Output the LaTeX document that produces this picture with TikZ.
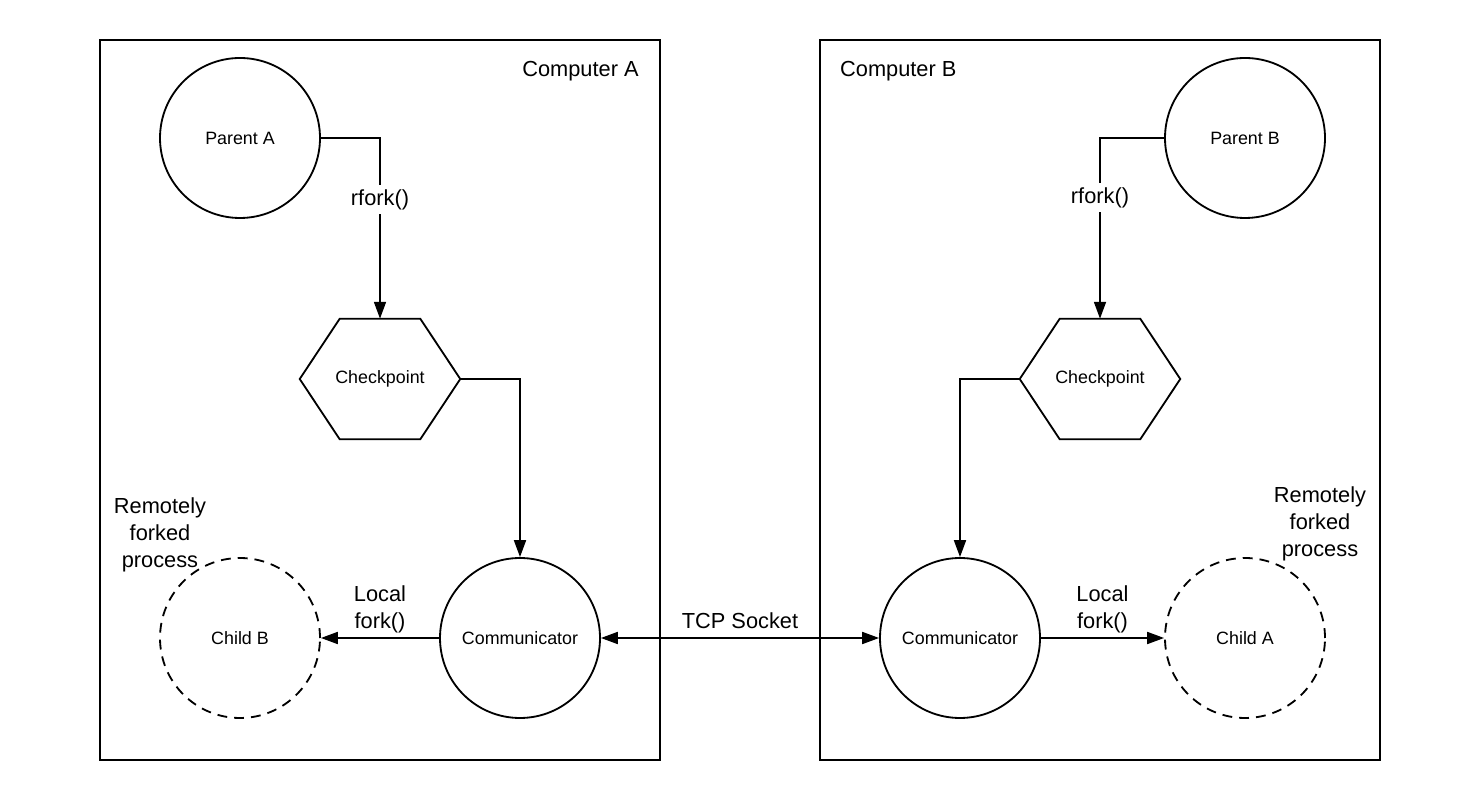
\documentclass[tikz,border=0pt]{standalone}
\usepackage{fontspec}
\setmainfont{Liberation Sans}
\usepackage{tikz}
\usetikzlibrary{arrows.meta,positioning}

\begin{document}
\begin{tikzpicture}[
  machine/.style={draw, line width=1.3pt, minimum width=14cm, minimum height=18cm},
  proc/.style={circle, draw, line width=1.3pt, minimum size=4cm, inner sep=0pt,
               font=\fontsize{12.7}{15}\selectfont},
  remote/.style={proc, dash pattern=on 7pt off 5pt},
  hexbox/.style={minimum width=4cm, minimum height=3cm, inner sep=0pt,
                 font=\fontsize{12.7}{15}\selectfont},
  lbl/.style={font=\fontsize{15.5}{19.2}\selectfont, align=center},
  arr/.style={-{Triangle[length=12pt, width=8.5pt]}, line width=1.3pt},
]
  \useasboundingbox (0,0) rectangle (37,20);

  % ── Computers ───────────────────
  \node[machine] (boxa) at (9.5,10) {};
  \node[machine] (boxb) at (27.5,10) {};
  \node[lbl, below left=0.55cm and 0.55cm of boxa.north east, inner sep=0pt]
        (tita) {Computer A};
  \node[lbl, below right=0.55cm and 0.52cm of boxb.north west, inner sep=0pt]
        (titb) {Computer B};

  % ── Processes ───────────────────
  \node[proc] (pa) at (6,16.55) {Parent A};
  \node[hexbox] (cpa) at (9.5,10.525) {Checkpoint};
  \node[proc] (coma) at (13,4.05) {Communicator};
  \node[remote] (chb) at (6,4.05) {Child B};

  \node[proc] (pb) at (31.125,16.55) {Parent B};
  \node[hexbox] (cpb) at (27.5,10.525) {Checkpoint};
  \node[proc] (comb) at (24,4.05) {Communicator};
  \node[remote] (cha) at (31.125,4.05) {Child A};

  \foreach \n in {cpa,cpb}
    \draw[line width=1.3pt] (\n.west) -- ([xshift=1cm]\n.north west)
      -- ([xshift=-1cm]\n.north east) -- (\n.east)
      -- ([xshift=-1cm]\n.south east) -- ([xshift=1cm]\n.south west) -- cycle;

  \node[lbl] (rema) at (4,6.63) {Remotely\\forked\\process};
  \node[lbl] (remb) at (33,6.9) {Remotely\\forked\\process};

  % ── Arrows ──────────────────────
  \draw[arr] (pa.east) -| node[lbl, pos=0.67, fill=white, inner sep=3pt]{rfork()}
        (cpa.north);
  \draw[arr] (pb.west) -| node[lbl, pos=0.665, fill=white, inner sep=3pt]{rfork()}
        (cpb.north);
  \draw[arr] (cpa.east) -| (coma.north);
  \draw[arr] (cpb.west) -| (comb.north);

  \draw[arr] (coma.west) -- node[lbl, above, inner sep=3pt]{Local\\fork()} (chb.east);
  \draw[arr] (comb.east) -- node[lbl, above, inner sep=3pt]{Local\\fork()} (cha.west);
  \draw[arr, {Triangle[length=12pt, width=8.5pt]}-{Triangle[length=12pt, width=8.5pt]}]
        (coma.east) -- node[lbl, above, inner sep=6pt]{TCP Socket} (comb.west);
\end{tikzpicture}
\end{document}
